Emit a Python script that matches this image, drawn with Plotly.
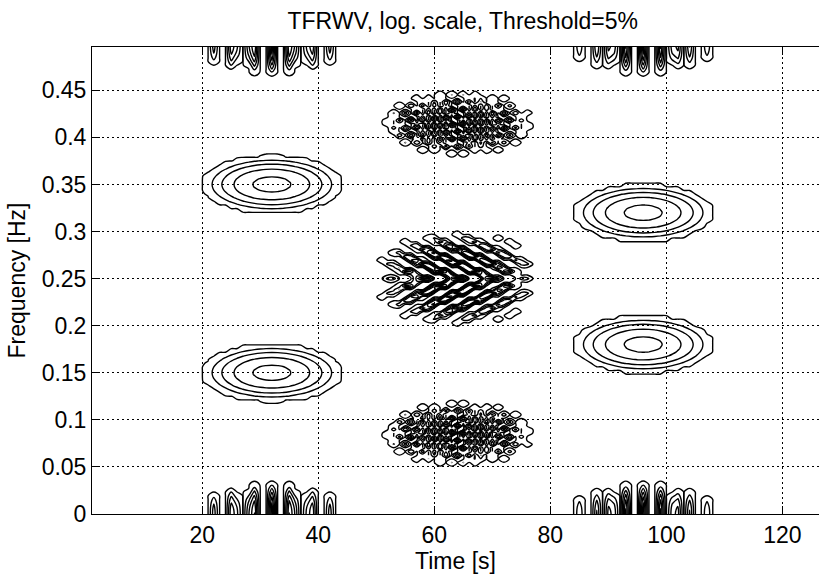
import numpy as np
import plotly.graph_objects as go

# ---- data: real signal made of two Gaussian atoms (time centre, normalised freq)
N_SAMPLES = 128
atom_times = [32, 96]
atom_freqs = [0.15, 0.32]
atom_widths = [20, 20]
atom_amps = [1.0, 1.0]
threshold_pct = 5.0
n_level_steps = 6

x_ticks = [20, 40, 60, 80, 100, 120]
y_ticks = [0, 0.05, 0.1, 0.15, 0.2, 0.25, 0.3, 0.35, 0.4, 0.45]
y_tick_text = ["0", "0.05", "0.1", "0.15", "0.2", "0.25", "0.3", "0.35", "0.4", "0.45"]

# ---- build signal
N = N_SAMPLES
t = np.arange(1, N + 1)
sig = np.zeros(N, dtype=complex)
for t0, f0, T, A in zip(atom_times, atom_freqs, atom_widths, atom_amps):
    sig += A * np.exp(-np.pi * ((t - t0) / T) ** 2) * np.exp(1j * 2 * np.pi * f0 * (t - t0))
x = np.real(sig)

# ---- discrete Wigner-Ville distribution (tfrwv)
tfr = np.zeros((N, N), dtype=complex)
half = N // 2
for icol in range(N):
    ti = icol + 1
    taumax = min(ti - 1, N - ti, half - 1)
    tau = np.arange(-taumax, taumax + 1)
    idx = (N + tau) % N
    tfr[idx, icol] = x[ti + tau - 1] * np.conj(x[ti - tau - 1])
    if (ti <= N - half) and (ti >= half + 1):
        tfr[half, icol] = 0.5 * (x[ti + half - 1] * np.conj(x[ti - half - 1])
                                 + x[ti - half - 1] * np.conj(x[ti + half - 1]))
tfr = np.real(np.fft.fft(tfr, axis=0))
freqs = np.arange(N) / (2.0 * N)

maxi = tfr.max()
floor = maxi * threshold_pct / 100.0
tfr_db = 10 * np.log10(np.maximum(tfr, floor) / maxi)
thr_db = 10 * np.log10(threshold_pct / 100.0)
step = -thr_db / n_level_steps

fig = go.Figure()
fig.add_trace(go.Contour(
    x=t, y=freqs, z=tfr_db,
    contours=dict(coloring="lines", start=thr_db + 0.03, end=0, size=step),
    colorscale=[[0, "black"], [1, "black"]],
    line=dict(width=1.4, color="black"),
    showscale=False,
    hoverinfo="skip",
))

font_family = "Liberation Sans, Arial, Helvetica, sans-serif"
fig.update_layout(
    width=819, height=576,
    margin=dict(l=92, r=0, t=47, b=62),
    paper_bgcolor="white", plot_bgcolor="white",
    font=dict(family=font_family, size=23, color="black"),
    title=dict(text="TFRWV, log. scale, Threshold=5%", x=0.51, xref="paper", xanchor="center",
               y=1 - 21 / 576, yref="container", yanchor="middle",
               font=dict(size=23, color="black")),
    showlegend=False,
)
fig.update_xaxes(
    range=[1, 126.3], tickvals=x_ticks, ticks="inside", ticklen=8, tickcolor="black",
    showline=True, linecolor="black", linewidth=1, mirror="ticks",
    showgrid=True, gridcolor="black", gridwidth=1, griddash="2px,3px",
    zeroline=False, title=dict(text="Time [s]", standoff=3, font=dict(size=23)),
    tickfont=dict(size=23),
)
fig.update_yaxes(
    range=[0, 0.496], tickvals=y_ticks, ticktext=y_tick_text, ticks="inside", ticklen=8,
    tickcolor="black", showline=True, linecolor="black", linewidth=1, mirror=False,
    showgrid=True, gridcolor="black", gridwidth=1, griddash="2px,3px",
    zeroline=False, title=dict(text="Frequency [Hz]", standoff=9, font=dict(size=23)),
    tickfont=dict(size=23),
)

fig.write_html("out.html")
